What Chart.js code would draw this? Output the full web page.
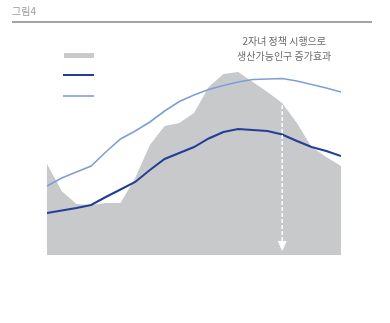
<!DOCTYPE html>
<html lang="ko">
<head>
<meta charset="UTF-8">
<title>그림4</title>
<script src="https://cdn.jsdelivr.net/npm/chart.js@4/dist/chart.umd.min.js"></script>
<style>
  html, body { margin: 0; padding: 0; background: #fff; }
  #wrap { width: 390px; height: 323px; position: relative; }
</style>
</head>
<body>
<div id="wrap"><canvas id="chart" width="390" height="323"></canvas></div>
<script>
// 21 time steps, no axis labels shown
const steps = Array.from({ length: 21 }, (_, i) => i);

// grey area series
const areaValues = [91, 64, 51, 50, 52, 52, 77, 110, 129, 132, 142, 168, 181, 183, 173, 163, 152, 132, 108, 98, 89];
// dark blue line
const darkValues = [42, 44.5, 47, 50, 58, 65.5, 73, 85, 96, 102, 108, 116.5, 123, 126, 125, 124, 120.5, 114, 108, 104, 99];
// light blue line
const lightValues = [69, 77, 83, 89, 103, 116, 124, 133, 144, 153.5, 160, 165.5, 169.5, 173, 175.5, 176, 176.5, 174, 170.5, 167, 163];

const arrowStep = 16;
const noteLines = ['2자녀 정책 시행으로', '생산가능인구 증가효과'];

const GREY = '#c8c9cb';
const DARK = '#233e98';
const LIGHT = '#7f9ed6';
const FONT = '"Noto Sans CJK KR", "Noto Sans", sans-serif';

const toPoints = vals => vals.map((v, i) => ({ x: steps[i], y: v }));

// title, rule, swatches, note text and the dashed arrow
const decorations = {
  id: 'decorations',
  afterDatasetsDraw(chart) {
    const ctx = chart.ctx;
    const xs = chart.scales.x;
    const ys = chart.scales.y;
    ctx.save();

    ctx.fillStyle = '#9a9a9a';
    ctx.font = '10px ' + FONT;
    ctx.textBaseline = 'middle';
    ctx.textAlign = 'left';
    ctx.fillText('그림4', 12, 11);

    ctx.strokeStyle = '#a3a3a3';
    ctx.lineWidth = 2;
    ctx.beginPath();
    ctx.moveTo(12, 22);
    ctx.lineTo(372, 22);
    ctx.stroke();

    // swatches
    ctx.fillStyle = GREY;
    ctx.fillRect(64, 53, 30, 5);
    ctx.strokeStyle = DARK;
    ctx.lineWidth = 2;
    ctx.beginPath();
    ctx.moveTo(63, 75);
    ctx.lineTo(94, 75);
    ctx.stroke();
    ctx.strokeStyle = LIGHT;
    ctx.lineWidth = 1.6;
    ctx.beginPath();
    ctx.moveTo(63, 96);
    ctx.lineTo(94, 96);
    ctx.stroke();

    // note
    const ax = xs.getPixelForValue(arrowStep);
    ctx.fillStyle = '#6b6b6b';
    ctx.font = '10px ' + FONT;
    ctx.textAlign = 'center';
    ctx.fillText(noteLines[0], ax + 2, 41);
    ctx.fillText(noteLines[1], ax + 2, 56);

    // dashed arrow
    const top = ys.getPixelForValue(areaValues[arrowStep]) + 2;
    const tip = ys.getPixelForValue(4);
    ctx.strokeStyle = '#ffffff';
    ctx.lineWidth = 1.5;
    ctx.setLineDash([4, 2]);
    ctx.beginPath();
    ctx.moveTo(ax, top);
    ctx.lineTo(ax, tip - 8);
    ctx.stroke();
    ctx.setLineDash([]);
    ctx.fillStyle = '#ffffff';
    ctx.beginPath();
    ctx.moveTo(ax - 4.5, tip - 10);
    ctx.lineTo(ax + 4.5, tip - 10);
    ctx.lineTo(ax, tip);
    ctx.closePath();
    ctx.fill();

    ctx.restore();
  }
};

new Chart(document.getElementById('chart'), {
  type: 'line',
  data: {
    datasets: [
      {
        data: toPoints(darkValues),
        borderColor: DARK,
        borderWidth: 2,
        pointRadius: 0,
        fill: false,
        tension: 0,
        order: 1
      },
      {
        data: toPoints(lightValues),
        borderColor: LIGHT,
        borderWidth: 1.6,
        pointRadius: 0,
        fill: false,
        tension: 0,
        order: 2
      },
      {
        data: toPoints(areaValues),
        borderColor: GREY,
        borderWidth: 0,
        backgroundColor: GREY,
        pointRadius: 0,
        fill: 'origin',
        tension: 0,
        order: 3
      }
    ]
  },
  options: {
    responsive: false,
    animation: false,
    layout: { padding: { left: 47, right: 49, top: 55, bottom: 68 } },
    plugins: { legend: { display: false }, tooltip: { enabled: false } },
    scales: {
      x: { type: 'linear', min: 0, max: 20, display: false },
      y: { min: 0, max: 200, display: false }
    }
  },
  plugins: [decorations]
});
</script>
</body>
</html>
